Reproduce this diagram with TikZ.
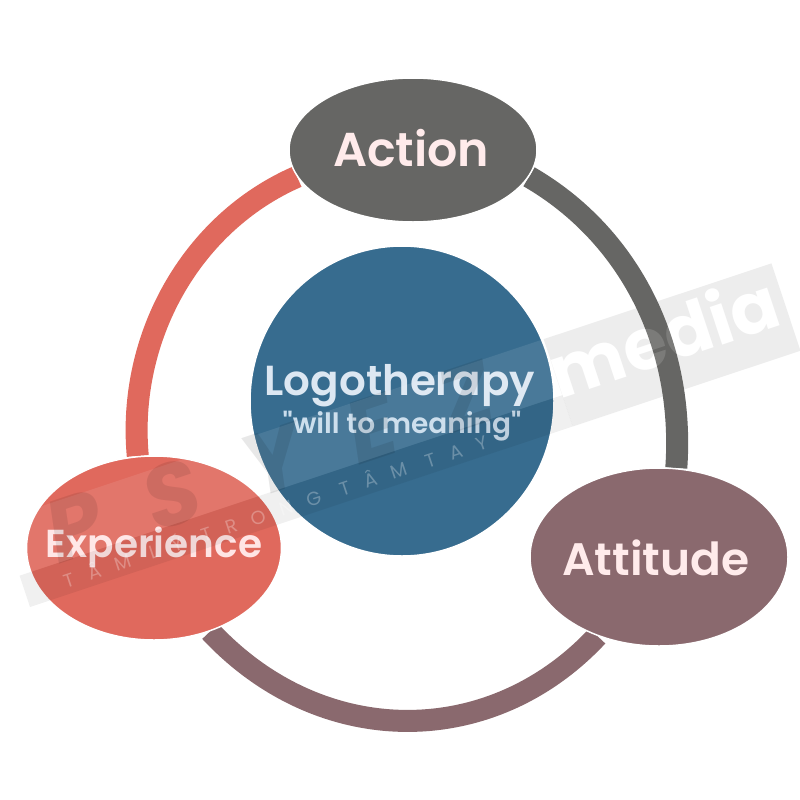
\documentclass[tikz,border=0pt]{standalone}
\usepackage{fontspec}
\setmainfont{Poppins}
\newfontfamily\qf[BoldFont={Poppins SemiBold}]{Poppins}
\usetikzlibrary{shapes.geometric,backgrounds}
\definecolor{cblue}{HTML}{376C8F}
\definecolor{cred}{HTML}{E0695D}
\definecolor{cgrey}{HTML}{666664}
\definecolor{cmauve}{HTML}{8A696E}
\definecolor{wmgrey}{HTML}{EDEDED}
\tikzset{
  bubble/.style={ellipse,draw=white,line width=1.5pt,inner sep=0pt},
  caption/.style={inner sep=0pt,align=center},
  ringarc/.style={line width=22pt,line cap=butt},
  wmletter/.style={text=black,text opacity=.09,font=\fontsize{88}{88}\selectfont\bfseries\itshape,inner sep=0pt,transform shape},
  wmmedia/.style={font=\fontsize{71}{71}\selectfont\bfseries,inner sep=0pt,anchor=base west,transform shape},
}
\begin{document}
\begin{tikzpicture}[x=1pt,y=-1pt]
\useasboundingbox (0,0) rectangle (800,800);
% nodes
\node[bubble,fill=cblue,minimum width=304pt,minimum height=310pt] (logo) at (402,401) {};
\node[bubble,fill=cgrey,minimum width=248pt,minimum height=144pt] (act) at (413,150) {};
\node[bubble,fill=cred,minimum width=255pt,minimum height=184pt] (exp) at (154,548) {};
\node[bubble,fill=cmauve,minimum width=258pt,minimum height=178pt] (att) at (659,557) {};
\node[caption,text={rgb,255:red,220;green,231;blue,242},font=\qf\bfseries\fontsize{42}{50}\selectfont] (tlogo) at (400,386) {Logotherapy};
\node[caption,text={rgb,255:red,201;green,220;blue,236},font=\qf\bfseries\fontsize{28}{30}\selectfont] (tmean) at (402,426) {"will to meaning"};
\node[caption,text=white!92!red,font=\qf\bfseries\fontsize{47.5}{50}\selectfont] (tact) at (411,148) {Action};
\node[caption,text=white!90!red,font=\qf\bfseries\fontsize{39}{40}\selectfont] (texp) at (154,547) {Experience};
\node[caption,text=white!92!red,font=\qf\bfseries\fontsize{45.5}{46}\selectfont] (tatt) at (656,558) {Attitude};
% layer underneath
\begin{scope}[on background layer]
  \fill[white] (0,0) rectangle (800,800);
  \begin{scope}[shift={(30,607)},rotate=18.4,y=1pt]
    \fill[wmgrey] (572,0) rectangle (812,92);
    \node[wmmedia,text=white] (media) at (568,30) {media};
  \end{scope}
  \draw[ringarc,cred] (exp.100) .. controls (127,338) and (191,223) .. (act.193);
  \draw[ringarc,cgrey] (act.-13) .. controls (628,234) and (685,343) .. (att.79);
  \draw[ringarc,cmauve] (att.232) .. controls (491,750) and (321,750) .. (exp.-56);
\end{scope}
% watermark on top
\begin{scope}[shift={(30,607)},rotate=18.4,y=1pt]
  \fill[black,opacity=.06] (0,0) rectangle (572,33);
  \fill[white,opacity=.09] (0,33) rectangle (572,92);
  \node[wmmedia,text=white,text opacity=.14] (mediatop) at (568,30) {media};
  \node[wmletter] (wP) at (68,62) {P};
  \node[wmletter] (wS) at (170,62) {S};
  \node[wmletter] (wY) at (277,62) {Y};
  \node[wmletter] (wE) at (380,62) {E};
  \node[wmletter] (wZ) at (480,62) {Z};
  \node[text=white,text opacity=.28,inner sep=0pt,anchor=west,transform shape,font=\fontsize{19}{19}\selectfont\addfontfeature{LetterSpace=80}] (wtag) at (40,15) {TÂM LÝ TRONG TÂM TAY};
\end{scope}
\end{tikzpicture}
\end{document}
